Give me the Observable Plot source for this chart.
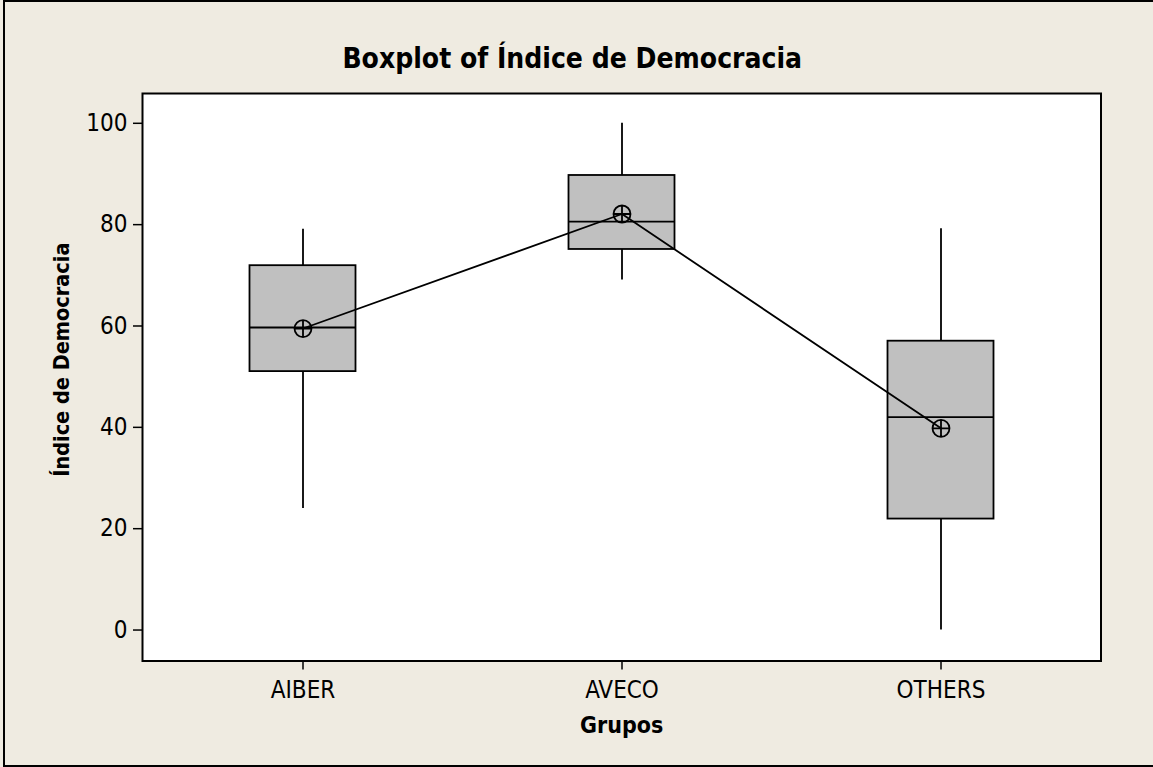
<!DOCTYPE html>
<html>
<head>
<meta charset="utf-8">
<script src="https://cdn.jsdelivr.net/npm/d3@7"></script>
<script src="https://cdn.jsdelivr.net/npm/@observablehq/plot@0.6"></script>
<style>
  html, body { margin: 0; padding: 0; background: #EFEBE1; }
  #wrap { position: relative; width: 1153px; height: 767px; overflow: hidden; background: #EFEBE1; }
  #border { position: absolute; left: 3px; top: 0px; right: -10px; bottom: 0px; border: 2px solid #000; box-sizing: border-box; pointer-events: none; }
  #chart { position: absolute; left: 0; top: 0; }
  svg { font-stretch: condensed; }
</style>
</head>
<body>
<div id="wrap"><div id="chart"></div><div id="border"></div></div>
<script>
const title = "Boxplot of Índice de Democracia";
const xLabel = "Grupos";
const yLabel = "Índice de Democracia";
const groups = ["AIBER", "AVECO", "OTHERS"];
const whiskerLow = [24.0, 69.1, 0.0];
const q1 = [51.0, 75.1, 21.9];
const median = [59.7, 80.6, 42.0];
const q3 = [71.9, 89.7, 57.0];
const whiskerHigh = [79.1, 100.0, 79.2];
const means = [59.5, 82.1, 39.8];
const yTicks = [0, 20, 40, 60, 80, 100];

const rows = groups.map((g, i) => ({
  group: g, lo: whiskerLow[i], q1: q1[i], med: median[i], q3: q3[i], hi: whiskerHigh[i], mean: means[i]
}));

const FONT = "'DejaVu Sans Condensed', 'DejaVu Sans', sans-serif";
const boxInset = 106.5;

const circlePlus = {
  draw(ctx, size) {
    const r = Math.sqrt(size / Math.PI);
    ctx.moveTo(r, 0);
    ctx.arc(0, 0, r, 0, 2 * Math.PI);
    ctx.moveTo(-r, 0); ctx.lineTo(r, 0);
    ctx.moveTo(0, -r); ctx.lineTo(0, r);
  }
};

const chart = Plot.plot({
  width: 1153,
  height: 767,
  marginTop: 93,
  marginBottom: 106.5,
  marginLeft: 142,
  marginRight: 52.5,
  style: { background: "transparent", fontFamily: FONT, color: "#000" },
  x: { type: "band", domain: groups, padding: 0 },
  y: { domain: [-6.11, 105.88] },
  marks: [
    Plot.frame({ fill: "white", stroke: null }),
    Plot.axisY({ ticks: yTicks, tickSize: 9, tickPadding: 6, fontSize: 24, label: null, stroke: "#000", strokeWidth: 1.5, fill: "#000", fontFamily: FONT }),
    Plot.axisX({ tickSize: 9, tickPadding: 11, fontSize: 24, label: null, stroke: "#000", strokeWidth: 1.5, fill: "#000", fontFamily: FONT }),
    Plot.ruleX(rows, { x: "group", y1: "lo", y2: "q1", stroke: "#000", strokeWidth: 1.8 }),
    Plot.ruleX(rows, { x: "group", y1: "q3", y2: "hi", stroke: "#000", strokeWidth: 1.8 }),
    Plot.barY(rows, { x: "group", y1: "q1", y2: "q3", fill: "#C0C0C0", stroke: "#000", strokeWidth: 1.8, insetLeft: boxInset, insetRight: boxInset }),
    Plot.tickY(rows, { x: "group", y: "med", stroke: "#000", strokeWidth: 1.8, insetLeft: boxInset, insetRight: boxInset }),
    Plot.line(rows, { x: "group", y: "mean", stroke: "#000", strokeWidth: 1.8 }),
    Plot.dot(rows, { x: "group", y: "mean", r: 8.5, symbol: circlePlus, stroke: "#000", strokeWidth: 1.8, fill: "none" }),
    Plot.frame({ stroke: "#000", strokeWidth: 2 }),
    Plot.text([title], { frameAnchor: "top", dx: -49.5, dy: -26, textAnchor: "middle", lineAnchor: "bottom", fontSize: 28, fontWeight: "bold", fill: "#000", fontFamily: FONT }),
    Plot.text([xLabel], { frameAnchor: "bottom", dy: 71.5, textAnchor: "middle", lineAnchor: "bottom", fontSize: 23, fontWeight: "bold", fill: "#000", fontFamily: FONT }),
    Plot.text([yLabel], { frameAnchor: "left", dx: -74, dy: -17.6, rotate: -90, textAnchor: "middle", lineAnchor: "bottom", fontSize: 21.5, fontWeight: "bold", fill: "#000", fontFamily: FONT })
  ]
});
document.getElementById("chart").appendChild(chart);
</script>
</body>
</html>
